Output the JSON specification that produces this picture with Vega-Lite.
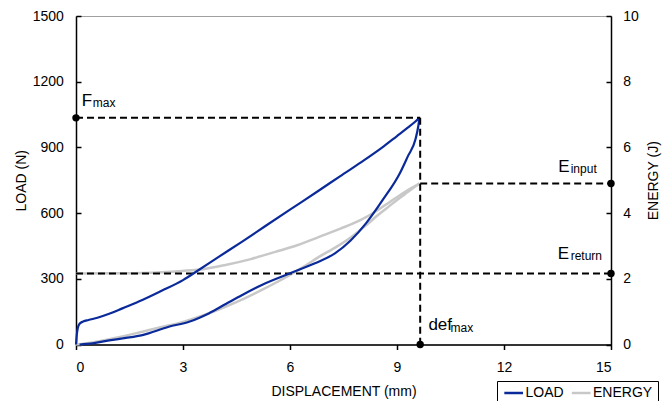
{
  "$schema": "https://vega.github.io/schema/vega-lite/v6.json",
  "autosize": {"type": "none"},
  "width": 535,
  "height": 328.5,
  "padding": {"left": 76, "top": 16, "right": 52, "bottom": 56.5},
  "config": {
    "font": "Liberation Sans",
    "view": {"stroke": "#a0a0a0", "strokeWidth": 1},
    "axis": {
      "grid": false,
      "domainColor": "#000000",
      "domainWidth": 1.5,
      "tickColor": "#000000",
      "tickWidth": 1.5,
      "labelFontSize": 14,
      "labelColor": "#000000",
      "titleFontSize": 14,
      "titleFontWeight": "normal",
      "titleColor": "#000000"
    },
    "legend": {
      "labelFontSize": 14,
      "labelColor": "#000000"
    }
  },
  "datasets": {
    "load": [
      {"series": "LOAD", "branch": "loading", "x": 0, "y": 0},
      {"series": "LOAD", "branch": "loading", "x": 0.02, "y": 40},
      {"series": "LOAD", "branch": "loading", "x": 0.05, "y": 75},
      {"series": "LOAD", "branch": "loading", "x": 0.1, "y": 95},
      {"series": "LOAD", "branch": "loading", "x": 0.2, "y": 105},
      {"series": "LOAD", "branch": "loading", "x": 0.35, "y": 112},
      {"series": "LOAD", "branch": "loading", "x": 0.6, "y": 122},
      {"series": "LOAD", "branch": "loading", "x": 0.93, "y": 140},
      {"series": "LOAD", "branch": "loading", "x": 1.3, "y": 165},
      {"series": "LOAD", "branch": "loading", "x": 1.86, "y": 203},
      {"series": "LOAD", "branch": "loading", "x": 2.4, "y": 245},
      {"series": "LOAD", "branch": "loading", "x": 3.0, "y": 294},
      {"series": "LOAD", "branch": "loading", "x": 3.44, "y": 340},
      {"series": "LOAD", "branch": "loading", "x": 4.0, "y": 400},
      {"series": "LOAD", "branch": "loading", "x": 4.66, "y": 470},
      {"series": "LOAD", "branch": "loading", "x": 5.3, "y": 540},
      {"series": "LOAD", "branch": "loading", "x": 6.0, "y": 616},
      {"series": "LOAD", "branch": "loading", "x": 6.8, "y": 702},
      {"series": "LOAD", "branch": "loading", "x": 7.4, "y": 768},
      {"series": "LOAD", "branch": "loading", "x": 8.0, "y": 833},
      {"series": "LOAD", "branch": "loading", "x": 8.57, "y": 898},
      {"series": "LOAD", "branch": "loading", "x": 9.0, "y": 952},
      {"series": "LOAD", "branch": "loading", "x": 9.3, "y": 990},
      {"series": "LOAD", "branch": "loading", "x": 9.5, "y": 1016},
      {"series": "LOAD", "branch": "loading", "x": 9.63, "y": 1035},
      {"series": "LOAD", "branch": "unloading", "x": 9.63, "y": 1035},
      {"series": "LOAD", "branch": "unloading", "x": 9.6, "y": 1000},
      {"series": "LOAD", "branch": "unloading", "x": 9.52, "y": 938},
      {"series": "LOAD", "branch": "unloading", "x": 9.3, "y": 858},
      {"series": "LOAD", "branch": "unloading", "x": 9.08, "y": 782},
      {"series": "LOAD", "branch": "unloading", "x": 8.6, "y": 660},
      {"series": "LOAD", "branch": "unloading", "x": 8.13, "y": 553},
      {"series": "LOAD", "branch": "unloading", "x": 7.7, "y": 475},
      {"series": "LOAD", "branch": "unloading", "x": 7.26, "y": 416},
      {"series": "LOAD", "branch": "unloading", "x": 6.7, "y": 371},
      {"series": "LOAD", "branch": "unloading", "x": 6.0, "y": 325},
      {"series": "LOAD", "branch": "unloading", "x": 5.21, "y": 272},
      {"series": "LOAD", "branch": "unloading", "x": 4.66, "y": 226},
      {"series": "LOAD", "branch": "unloading", "x": 4.2, "y": 185},
      {"series": "LOAD", "branch": "unloading", "x": 3.72, "y": 142},
      {"series": "LOAD", "branch": "unloading", "x": 3.17, "y": 104},
      {"series": "LOAD", "branch": "unloading", "x": 2.6, "y": 81},
      {"series": "LOAD", "branch": "unloading", "x": 1.86, "y": 43},
      {"series": "LOAD", "branch": "unloading", "x": 1.4, "y": 30},
      {"series": "LOAD", "branch": "unloading", "x": 0.93, "y": 19},
      {"series": "LOAD", "branch": "unloading", "x": 0.47, "y": 5},
      {"series": "LOAD", "branch": "unloading", "x": 0.1, "y": 0}
    ],
    "energy": [
      {"series": "ENERGY", "branch": "lower", "x": 0, "e": 0},
      {"series": "ENERGY", "branch": "lower", "x": 0.5, "e": 0.07},
      {"series": "ENERGY", "branch": "lower", "x": 0.93, "e": 0.16},
      {"series": "ENERGY", "branch": "lower", "x": 1.4, "e": 0.27},
      {"series": "ENERGY", "branch": "lower", "x": 1.86, "e": 0.39},
      {"series": "ENERGY", "branch": "lower", "x": 2.4, "e": 0.53},
      {"series": "ENERGY", "branch": "lower", "x": 3.0, "e": 0.69},
      {"series": "ENERGY", "branch": "lower", "x": 3.6, "e": 0.9},
      {"series": "ENERGY", "branch": "lower", "x": 4.19, "e": 1.15},
      {"series": "ENERGY", "branch": "lower", "x": 4.7, "e": 1.39},
      {"series": "ENERGY", "branch": "lower", "x": 5.21, "e": 1.66},
      {"series": "ENERGY", "branch": "lower", "x": 5.6, "e": 1.88},
      {"series": "ENERGY", "branch": "lower", "x": 6.0, "e": 2.12},
      {"series": "ENERGY", "branch": "lower", "x": 6.4, "e": 2.38},
      {"series": "ENERGY", "branch": "lower", "x": 6.8, "e": 2.66},
      {"series": "ENERGY", "branch": "lower", "x": 7.3, "e": 2.97},
      {"series": "ENERGY", "branch": "lower", "x": 7.73, "e": 3.28},
      {"series": "ENERGY", "branch": "lower", "x": 8.1, "e": 3.6},
      {"series": "ENERGY", "branch": "lower", "x": 8.4, "e": 3.88},
      {"series": "ENERGY", "branch": "lower", "x": 8.7, "e": 4.14},
      {"series": "ENERGY", "branch": "lower", "x": 9.0, "e": 4.4},
      {"series": "ENERGY", "branch": "lower", "x": 9.3, "e": 4.64},
      {"series": "ENERGY", "branch": "lower", "x": 9.63, "e": 4.9},
      {"series": "ENERGY", "branch": "upper", "x": 9.63, "e": 4.9},
      {"series": "ENERGY", "branch": "upper", "x": 9.4, "e": 4.76},
      {"series": "ENERGY", "branch": "upper", "x": 9.1, "e": 4.56},
      {"series": "ENERGY", "branch": "upper", "x": 8.8, "e": 4.34},
      {"series": "ENERGY", "branch": "upper", "x": 8.4, "e": 4.05},
      {"series": "ENERGY", "branch": "upper", "x": 8.0, "e": 3.8},
      {"series": "ENERGY", "branch": "upper", "x": 7.4, "e": 3.52},
      {"series": "ENERGY", "branch": "upper", "x": 6.8, "e": 3.27},
      {"series": "ENERGY", "branch": "upper", "x": 6.2, "e": 3.02},
      {"series": "ENERGY", "branch": "upper", "x": 5.59, "e": 2.82},
      {"series": "ENERGY", "branch": "upper", "x": 4.9, "e": 2.6},
      {"series": "ENERGY", "branch": "upper", "x": 4.19, "e": 2.42},
      {"series": "ENERGY", "branch": "upper", "x": 3.6, "e": 2.3},
      {"series": "ENERGY", "branch": "upper", "x": 2.98, "e": 2.24},
      {"series": "ENERGY", "branch": "upper", "x": 2.4, "e": 2.2},
      {"series": "ENERGY", "branch": "upper", "x": 1.86, "e": 2.18},
      {"series": "ENERGY", "branch": "upper", "x": 1.0, "e": 2.17},
      {"series": "ENERGY", "branch": "upper", "x": 0, "e": 2.16}
    ],
    "guideLoad": [
      {"g": "fmax", "x": 0, "y": 1035},
      {"g": "fmax", "x": 9.65, "y": 1035},
      {"g": "def", "x": 9.65, "y": 1035},
      {"g": "def", "x": 9.65, "y": 0}
    ],
    "guideEnergy": [
      {"g": "ein", "x": 9.65, "e": 4.9},
      {"g": "ein", "x": 15, "e": 4.9},
      {"g": "eret", "x": 0, "e": 2.16},
      {"g": "eret", "x": 15, "e": 2.16}
    ],
    "ptLoad": [
      {"x": 0, "y": 1035},
      {"x": 9.65, "y": 0}
    ],
    "ptEnergy": [
      {"x": 15, "e": 4.9},
      {"x": 15, "e": 2.16}
    ],
    "labMain": [
      {"x": 0.16, "y": 1089, "t": "F"},
      {"x": 13.52, "y": 789, "t": "E"},
      {"x": 13.51, "y": 389, "t": "E"},
      {"x": 9.88, "y": 66, "t": "def"}
    ],
    "labSub": [
      {"x": 0.47, "y": 1086, "t": "max"},
      {"x": 13.87, "y": 782, "t": "input"},
      {"x": 13.87, "y": 386, "t": "return"},
      {"x": 10.5, "y": 56, "t": "max"}
    ]
  },
  "layer": [
    {
      "encoding": {
        "x": {
          "field": "x", "type": "quantitative",
          "scale": {"domain": [0, 15], "nice": false, "zero": false},
          "axis": {"values": [0, 3, 6, 9, 12, 15], "title": "DISPLACEMENT (mm)", "tickSize": 5, "labelPadding": 11, "titlePadding": 10}
        },
        "y": {
          "field": "e", "type": "quantitative",
          "scale": {"domain": [0, 10], "nice": false},
          "axis": {"orient": "right", "values": [0, 2, 4, 6, 8, 10], "format": "d", "title": "ENERGY (J)", "titleAngle": -90, "titleBaseline": "top", "tickSize": -5, "labelPadding": 16.7, "titlePadding": 8}
        }
      },
      "layer": [
        {
          "data": {"name": "energy"},
          "mark": {"type": "line", "strokeWidth": 2.5, "interpolate": "monotone"},
          "encoding": {
            "detail": {"field": "branch", "type": "nominal"},
            "color": {
              "field": "series", "type": "nominal",
              "scale": {"domain": ["LOAD", "ENERGY"], "range": ["#0b2a9a", "#c8c8c8"]},
              "legend": {
                "title": null, "orient": "none", "legendX": 421, "legendY": 365,
                "direction": "horizontal", "strokeColor": "#000000", "padding": 5,
                "symbolType": "M-1,0H3", "symbolSize": 87.5, "symbolStrokeWidth": 2.5,
                "labelOffset": 9.5, "columnPadding": 2.5
              }
            }
          }
        },
        {
          "data": {"name": "guideEnergy"},
          "mark": {"type": "line", "color": "#000000", "strokeWidth": 2, "strokeDash": [7, 4]},
          "encoding": {"detail": {"field": "g", "type": "nominal"}}
        },
        {
          "data": {"name": "ptEnergy"},
          "mark": {"type": "point", "filled": true, "color": "#000000", "size": 55, "opacity": 1}
        }
      ]
    },
    {
      "encoding": {
        "x": {"field": "x", "type": "quantitative", "scale": {"domain": [0, 15], "nice": false, "zero": false}},
        "y": {
          "field": "y", "type": "quantitative",
          "scale": {"domain": [0, 1500], "nice": false},
          "axis": {"orient": "left", "values": [0, 300, 600, 900, 1200, 1500], "format": "d", "title": "LOAD (N)", "tickSize": -5, "labelPadding": 17.7, "titlePadding": 4}
        }
      },
      "layer": [
        {
          "data": {"name": "load"},
          "mark": {"type": "line", "strokeWidth": 2.2, "interpolate": "monotone"},
          "encoding": {
            "detail": {"field": "branch", "type": "nominal"},
            "color": {"field": "series", "type": "nominal"}
          }
        },
        {
          "data": {"name": "guideLoad"},
          "mark": {"type": "line", "color": "#000000", "strokeWidth": 2, "strokeDash": [7, 4]},
          "encoding": {"detail": {"field": "g", "type": "nominal"}}
        },
        {
          "data": {"name": "ptLoad"},
          "mark": {"type": "point", "filled": true, "color": "#000000", "size": 55, "opacity": 1}
        },
        {
          "data": {"name": "labMain"},
          "mark": {"type": "text", "align": "left", "baseline": "alphabetic", "fontSize": 17, "color": "#000000"},
          "encoding": {"text": {"field": "t"}}
        },
        {
          "data": {"name": "labSub"},
          "mark": {"type": "text", "align": "left", "baseline": "alphabetic", "fontSize": 12, "color": "#000000"},
          "encoding": {"text": {"field": "t"}}
        }
      ]
    }
  ],
  "resolve": {"scale": {"y": "independent"}, "axis": {"y": "independent"}}
}
